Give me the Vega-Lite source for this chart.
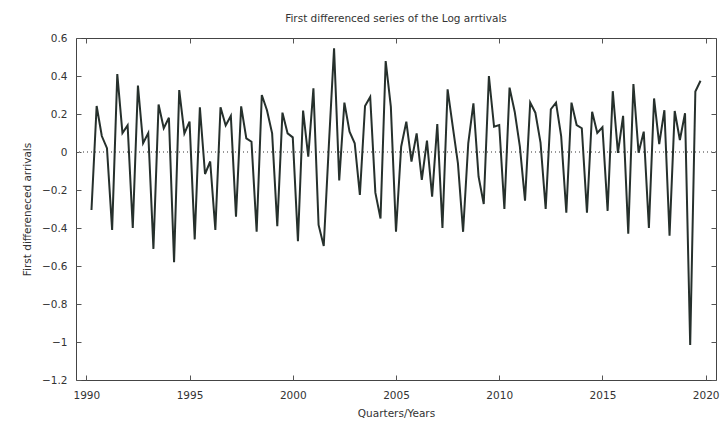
{
  "$schema": "https://vega.github.io/schema/vega-lite/v6.json",
  "width": 640,
  "height": 342,
  "autosize": "none",
  "padding": {"left": 76, "top": 38, "right": 12, "bottom": 47},
  "background": "white",
  "title": {"text": "First differenced series of the Log arrtivals", "fontSize": 10.5, "font": "DejaVu Sans", "fontWeight": "normal", "color": "#333", "offset": 9, "anchor": "middle", "frame": "group"},
  "config": {
    "view": {"stroke": "#444", "strokeWidth": 1},
    "axis": {"labelFont": "DejaVu Sans", "labelFontSize": 10.5, "labelColor": "#333", "titleFont": "DejaVu Sans", "titleFontSize": 10.5, "titleFontWeight": "normal", "titleColor": "#333", "domain": false, "grid": false, "tickColor": "#555", "tickSize": -5, "tickWidth": 1}
  },
  "data": {"values": [
    {"t": 1990.25, "v": -0.305}, {"t": 1990.5, "v": 0.242}, {"t": 1990.75, "v": 0.084}, {"t": 1991.0, "v": 0.02},
    {"t": 1991.25, "v": -0.41}, {"t": 1991.5, "v": 0.41}, {"t": 1991.75, "v": 0.10}, {"t": 1992.0, "v": 0.14},
    {"t": 1992.25, "v": -0.40}, {"t": 1992.5, "v": 0.35}, {"t": 1992.75, "v": 0.046}, {"t": 1993.0, "v": 0.10},
    {"t": 1993.25, "v": -0.51}, {"t": 1993.5, "v": 0.25}, {"t": 1993.75, "v": 0.125}, {"t": 1994.0, "v": 0.18},
    {"t": 1994.25, "v": -0.58}, {"t": 1994.5, "v": 0.326}, {"t": 1994.75, "v": 0.098}, {"t": 1995.0, "v": 0.16},
    {"t": 1995.25, "v": -0.46}, {"t": 1995.5, "v": 0.235}, {"t": 1995.75, "v": -0.116}, {"t": 1996.0, "v": -0.05},
    {"t": 1996.25, "v": -0.41}, {"t": 1996.5, "v": 0.235}, {"t": 1996.75, "v": 0.14}, {"t": 1997.0, "v": 0.19},
    {"t": 1997.25, "v": -0.34}, {"t": 1997.5, "v": 0.24}, {"t": 1997.75, "v": 0.072}, {"t": 1998.0, "v": 0.054},
    {"t": 1998.25, "v": -0.42}, {"t": 1998.5, "v": 0.30}, {"t": 1998.75, "v": 0.22}, {"t": 1999.0, "v": 0.098},
    {"t": 1999.25, "v": -0.39}, {"t": 1999.5, "v": 0.207}, {"t": 1999.75, "v": 0.098}, {"t": 2000.0, "v": 0.077},
    {"t": 2000.25, "v": -0.47}, {"t": 2000.5, "v": 0.218}, {"t": 2000.75, "v": -0.025}, {"t": 2001.0, "v": 0.335},
    {"t": 2001.25, "v": -0.384}, {"t": 2001.5, "v": -0.495}, {"t": 2001.75, "v": 0.04}, {"t": 2002.0, "v": 0.546},
    {"t": 2002.25, "v": -0.15}, {"t": 2002.5, "v": 0.26}, {"t": 2002.75, "v": 0.107}, {"t": 2003.0, "v": 0.046},
    {"t": 2003.25, "v": -0.226}, {"t": 2003.5, "v": 0.242}, {"t": 2003.75, "v": 0.29}, {"t": 2004.0, "v": -0.214},
    {"t": 2004.25, "v": -0.35}, {"t": 2004.5, "v": 0.479}, {"t": 2004.75, "v": 0.239}, {"t": 2005.0, "v": -0.42},
    {"t": 2005.25, "v": 0.028}, {"t": 2005.5, "v": 0.16}, {"t": 2005.75, "v": -0.05}, {"t": 2006.0, "v": 0.098},
    {"t": 2006.25, "v": -0.147}, {"t": 2006.5, "v": 0.06}, {"t": 2006.75, "v": -0.235}, {"t": 2007.0, "v": 0.147},
    {"t": 2007.25, "v": -0.40}, {"t": 2007.5, "v": 0.33}, {"t": 2007.75, "v": 0.133}, {"t": 2008.0, "v": -0.06},
    {"t": 2008.25, "v": -0.42}, {"t": 2008.5, "v": 0.046}, {"t": 2008.75, "v": 0.256}, {"t": 2009.0, "v": -0.13},
    {"t": 2009.25, "v": -0.274}, {"t": 2009.5, "v": 0.40}, {"t": 2009.75, "v": 0.133}, {"t": 2010.0, "v": 0.142},
    {"t": 2010.25, "v": -0.30}, {"t": 2010.5, "v": 0.339}, {"t": 2010.75, "v": 0.212}, {"t": 2011.0, "v": 0.028},
    {"t": 2011.25, "v": -0.256}, {"t": 2011.5, "v": 0.26}, {"t": 2011.75, "v": 0.207}, {"t": 2012.0, "v": 0.05},
    {"t": 2012.25, "v": -0.30}, {"t": 2012.5, "v": 0.225}, {"t": 2012.75, "v": 0.26}, {"t": 2013.0, "v": 0.084},
    {"t": 2013.25, "v": -0.32}, {"t": 2013.5, "v": 0.26}, {"t": 2013.75, "v": 0.142}, {"t": 2014.0, "v": 0.125},
    {"t": 2014.25, "v": -0.32}, {"t": 2014.5, "v": 0.212}, {"t": 2014.75, "v": 0.10}, {"t": 2015.0, "v": 0.13},
    {"t": 2015.25, "v": -0.31}, {"t": 2015.5, "v": 0.32}, {"t": 2015.75, "v": -0.005}, {"t": 2016.0, "v": 0.19},
    {"t": 2016.25, "v": -0.43}, {"t": 2016.5, "v": 0.358}, {"t": 2016.75, "v": -0.004}, {"t": 2017.0, "v": 0.107},
    {"t": 2017.25, "v": -0.40}, {"t": 2017.5, "v": 0.282}, {"t": 2017.75, "v": 0.042}, {"t": 2018.0, "v": 0.22},
    {"t": 2018.25, "v": -0.44}, {"t": 2018.5, "v": 0.216}, {"t": 2018.75, "v": 0.063}, {"t": 2019.0, "v": 0.204},
    {"t": 2019.25, "v": -1.016}, {"t": 2019.5, "v": 0.318}, {"t": 2019.75, "v": 0.375}
  ]},
  "layer": [
    {
      "mark": {"type": "rule", "color": "#999", "strokeDash": [1, 3], "strokeWidth": 1},
      "encoding": {
        "y": {"datum": 0, "type": "quantitative", "scale": {"domain": [-1.2, 0.6], "nice": false, "zero": false},
          "axis": {"orient": "right", "labels": false, "title": null, "values": [-1.2, -1, -0.8, -0.6, -0.4, -0.2, 0, 0.2, 0.4, 0.6]}}
      }
    },
    {
      "mark": {"type": "line", "color": "#26302c", "strokeWidth": 2, "strokeJoin": "miter"},
      "encoding": {
        "x": {"field": "t", "type": "quantitative", "scale": {"domain": [1989.5, 2020.5], "nice": false, "zero": false},
          "axis": {"title": "Quarters/Years", "values": [1990, 1995, 2000, 2005, 2010, 2015, 2020], "format": "d", "labelPadding": 15, "titleY": 28}},
        "y": {"field": "v", "type": "quantitative", "scale": {"domain": [-1.2, 0.6], "nice": false, "zero": false},
          "axis": {"orient": "left", "title": "First differeneced arrivals", "values": [-1.2, -1, -0.8, -0.6, -0.4, -0.2, 0, 0.2, 0.4, 0.6], "format": "~g", "labelPadding": 14, "titleX": -44}}
      }
    },
    {
      "mark": {"type": "rule", "opacity": 0},
      "encoding": {
        "x": {"datum": 2000, "type": "quantitative", "scale": {"domain": [1989.5, 2020.5], "nice": false, "zero": false},
          "axis": {"orient": "top", "labels": false, "title": null, "values": [1990, 1995, 2000, 2005, 2010, 2015, 2020]}}
      }
    }
  ],
  "resolve": {"axis": {"x": "independent", "y": "independent"}}
}
